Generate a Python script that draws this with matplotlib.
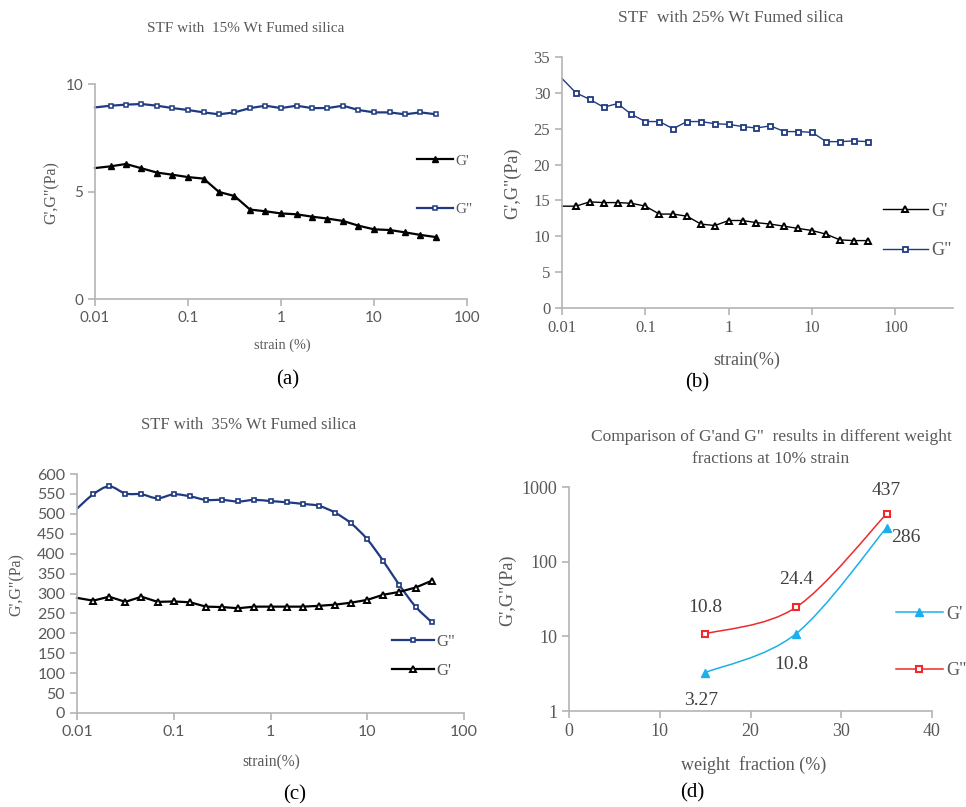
import numpy as np
import matplotlib
matplotlib.use("Agg")
import matplotlib.pyplot as plt
from matplotlib.path import Path
from matplotlib.patches import PathPatch
from matplotlib.lines import Line2D

# ---- data ----
strain = [0.01, 0.0147, 0.0215, 0.0316, 0.0464, 0.0681, 0.1, 0.147, 0.215, 0.316,
          0.464, 0.681, 1.0, 1.47, 2.15, 3.16, 4.64, 6.81, 10.0, 14.7, 21.5, 31.6, 46.4]

# (a) 15 wt%
a_G1 = [6.09, 6.17, 6.28, 6.08, 5.88, 5.78, 5.67, 5.60, 4.98, 4.79, 4.16, 4.08,
        3.98, 3.94, 3.83, 3.74, 3.63, 3.41, 3.24, 3.21, 3.10, 2.98, 2.88]
a_G2 = [8.91, 8.99, 9.04, 9.07, 8.99, 8.88, 8.79, 8.68, 8.59, 8.68, 8.88, 8.99,
        8.88, 8.99, 8.88, 8.88, 8.99, 8.79, 8.68, 8.68, 8.59, 8.68, 8.59]

# (b) 25 wt%
b_G1 = [14.2, 14.2, 14.8, 14.7, 14.7, 14.6, 14.2, 13.1, 13.1, 12.8, 11.7, 11.5,
        12.2, 12.2, 11.9, 11.7, 11.4, 11.1, 10.8, 10.3, 9.5, 9.4, 9.4]
b_G2 = [32.0, 30.0, 29.1, 28.0, 28.5, 27.0, 26.0, 26.0, 25.0, 26.0, 26.0, 25.7,
        25.6, 25.3, 25.1, 25.4, 24.6, 24.6, 24.5, 23.2, 23.2, 23.3, 23.2]

# (c) 35 wt%
c_G1 = [289, 282, 292, 279, 292, 279, 280, 278, 267, 266, 263, 267,
        267, 267, 267, 269, 272, 277, 284, 297, 304, 315, 332]
c_G2 = [513, 549, 569, 551, 549, 539, 549, 544, 535, 535, 531, 535,
        532, 529, 525, 520, 503, 476, 436, 381, 321, 267, 228]

# (d) comparison at 10% strain
wt_frac = [15, 25, 35]
d_G1 = [3.27, 10.8, 286]
d_G2 = [10.8, 24.4, 437]
d_G1_lab = ["3.27", "10.8", "286"]
d_G2_lab = ["10.8", "24.4", "437"]

NAVY = "#1f3a80"
GRAY = "#595959"
AXC = "#b4b4b4"
SERIF = ["Liberation Serif", "DejaVu Serif"]
SANS = ["Lato", "DejaVu Sans"]


def smooth_line(ax, x, y, xlog=False, ylog=False, **kw):
    """Excel-like smoothed line: Catmull-Rom -> cubic Bezier in scaled space."""
    u = np.log10(x) if xlog else np.asarray(x, float)
    v = np.log10(y) if ylog else np.asarray(y, float)
    P = np.column_stack([u, v])
    n = len(P)
    verts = [P[0]]
    codes = [Path.MOVETO]
    for i in range(n - 1):
        p0 = P[max(i - 1, 0)]
        p1, p2 = P[i], P[i + 1]
        p3 = P[min(i + 2, n - 1)]
        c1 = p1 + (p2 - p0) / 6.0
        c2 = p2 - (p3 - p1) / 6.0
        verts += [c1, c2, p2]
        codes += [Path.CURVE4] * 3
    V = np.array(verts)
    if xlog:
        V[:, 0] = 10 ** V[:, 0]
    if ylog:
        V[:, 1] = 10 ** V[:, 1]
    patch = PathPatch(Path(V, codes), fill=False, **kw)
    ax.add_patch(patch)
    return patch


def style_axes(ax, tickfont, tsize):
    for s in ["top", "right"]:
        ax.spines[s].set_visible(False)
    for s in ["left", "bottom"]:
        ax.spines[s].set_color(AXC)
        ax.spines[s].set_linewidth(1.2)
    ax.tick_params(axis="both", which="major", direction="out", length=5,
                   width=1.2, color=AXC, labelcolor=GRAY, labelsize=tsize)
    ax.tick_params(which="minor", length=0)
    for lab in ax.get_xticklabels() + ax.get_yticklabels():
        lab.set_family(tickfont)


fig = plt.figure(figsize=(9.66, 8.07), dpi=100)
W, H = 966.0, 807.0


def add_ax(l, t, r, b):
    return fig.add_axes([l / W, 1 - b / H, (r - l) / W, (b - t) / H])


def ftext(x, y, s, **kw):
    fig.text(x / W, 1 - y / H, s, ha="center", va="center", **kw)


log_ticks = [0.01, 0.1, 1, 10, 100]
log_labels = ["0.01", "0.1", "1", "10", "100"]

# ---------------- (a) ----------------
ax = add_ax(95, 84, 467, 299)
ax.set_xscale("log")
ax.plot(strain, a_G1, "-", color="black", lw=1.6, marker="^", ms=3.8,
        mfc="black", mec="black", markevery=slice(1, None), clip_on=False)
ax.plot(strain, a_G2, "-", color=NAVY, lw=1.6, marker="s", ms=3.2,
        mfc="white", mec=NAVY, mew=1.1, markevery=slice(1, None), clip_on=False)
ax.set_xlim(0.01, 100)
ax.set_ylim(0, 10)
ax.set_xticks(log_ticks, log_labels)
ax.set_yticks([0, 5, 10])
style_axes(ax, SANS, 11)
h1 = Line2D([], [], color="black", lw=1.6, marker="^", ms=3.8, mfc="black")
h2 = Line2D([], [], color=NAVY, lw=1.6, marker="s", ms=3.2, mfc="white", mew=1.1)
ax.legend([h1, h2], ["G'", 'G"'], loc="upper left", bbox_to_anchor=(0.865, 0.675),
          frameon=False, borderpad=0, borderaxespad=0, handlelength=2.4,
          handletextpad=0.15, labelspacing=2.3, numpoints=1,
          prop={"family": SERIF, "size": 11}, labelcolor=GRAY)
ftext(246, 29, "STF with  15% Wt Fumed silica", family=SERIF, size=11, color=GRAY)
ftext(282, 345, "strain (%)", family=SERIF, size=10.3, color=GRAY)
ftext(52, 193, "G',G\"(Pa)", family=SERIF, size=11.5, color=GRAY, rotation=90)
ftext(288, 380, "(a)", family=SERIF, size=15, color="black")

# ---------------- (b) ----------------
ax = add_ax(562, 57, 953, 308)
ax.set_xscale("log")
ax.plot(strain, b_G1, "-", color="black", lw=1.0, marker="^", ms=5,
        mfc="white", mec="black", mew=1.4, markevery=slice(1, None), clip_on=False)
ax.plot(strain, b_G2, "-", color=NAVY, lw=1.0, marker="s", ms=3.6,
        mfc="white", mec=NAVY, mew=1.3, markevery=slice(1, None), clip_on=False)
ax.set_xlim(0.01, 10 ** 2.69)
ax.set_ylim(0, 35)
ax.set_xticks(log_ticks, log_labels)
ax.set_yticks(range(0, 36, 5))
style_axes(ax, SERIF, 12)
h1 = Line2D([], [], color="black", lw=1.0, marker="^", ms=5, mfc="white", mew=1.4)
h2 = Line2D([], [], color=NAVY, lw=1.0, marker="s", ms=3.6, mfc="white", mew=1.3)
ax.legend([h1, h2], ["G'", 'G"'], loc="upper left", bbox_to_anchor=(0.82, 0.42),
          frameon=False, borderpad=0, borderaxespad=0, handlelength=2.5,
          handletextpad=0.2, labelspacing=1.25, numpoints=1,
          prop={"family": SERIF, "size": 13}, labelcolor=GRAY)
ftext(731, 18, "STF  with 25% Wt Fumed silica", family=SERIF, size=12.5, color=GRAY)
ftext(747, 360, "strain(%)", family=SERIF, size=13, color=GRAY)
ftext(513, 183, "G',G\"(Pa)", family=SERIF, size=13, color=GRAY, rotation=90)
ftext(697, 383, "(b)", family=SERIF, size=15, color="black")

# ---------------- (c) ----------------
ax = add_ax(77, 474, 464, 713)
ax.set_xscale("log")
smooth_line(ax, strain, c_G2, xlog=True, color=NAVY, lw=1.6)
ax.plot(strain[1:], c_G2[1:], "none", marker="s", ms=3.4,
        mfc="white", mec=NAVY, mew=1.2, clip_on=False)
ax.plot(strain, c_G1, "-", color="black", lw=1.6, marker="^", ms=4.6,
        mfc="white", mec="black", mew=1.4, markevery=slice(1, None), clip_on=False)
ax.set_xlim(0.01, 100)
ax.set_ylim(0, 600)
ax.set_xticks(log_ticks, log_labels)
ax.set_yticks(range(0, 601, 50))
style_axes(ax, SANS, 11.5)
h2 = Line2D([], [], color=NAVY, lw=1.6, marker="s", ms=3.4, mfc="white", mew=1.2)
h1 = Line2D([], [], color="black", lw=1.6, marker="^", ms=4.6, mfc="white", mew=1.4)
ax.legend([h2, h1], ['G"', "G'"], loc="upper left", bbox_to_anchor=(0.815, 0.33),
          frameon=False, borderpad=0, borderaxespad=0, handlelength=2.5,
          handletextpad=0.15, labelspacing=0.75, numpoints=1,
          prop={"family": SERIF, "size": 12}, labelcolor=GRAY)
ftext(249, 425, "STF with  35% Wt Fumed silica", family=SERIF, size=12, color=GRAY)
ftext(271, 762, "strain(%)", family=SERIF, size=11.2, color=GRAY)
ftext(17, 585, "G',G\"(Pa)", family=SERIF, size=11.5, color=GRAY, rotation=90)
ftext(295, 795, "(c)", family=SERIF, size=15, color="black")

# ---------------- (d) ----------------
CYAN = "#1ab0ec"
RED = "#ee2a2a"
ax = add_ax(569, 487, 932, 711)
ax.set_yscale("log")
smooth_line(ax, wt_frac, d_G1, ylog=True, color=CYAN, lw=1.1)
smooth_line(ax, wt_frac, d_G2, ylog=True, color=RED, lw=1.1)
ax.plot(wt_frac, d_G1, "none", marker="^", ms=5.5, mfc=CYAN, mec=CYAN)
ax.plot(wt_frac, d_G2, "none", marker="s", ms=4.8, mfc="white", mec=RED, mew=1.5)
ax.set_xlim(0, 40)
ax.set_ylim(1, 1000)
ax.set_xticks(range(0, 41, 10))
ax.set_yticks([1, 10, 100, 1000], ["1", "10", "100", "1000"])
style_axes(ax, SERIF, 13)
lab_off_G2 = [(0, 19), (0, 20), (0, 17)]
lab_off_G1 = [(-3, -20), (-3, -22), (14, -7)]
for x, y, s, o in zip(wt_frac, d_G2, d_G2_lab, lab_off_G2):
    ax.annotate(s, (x, y), xytext=o, textcoords="offset points", ha="center",
                va="center", family=SERIF, size=14, color="#404040")
for x, y, s, o in zip(wt_frac, d_G1, d_G1_lab, lab_off_G1):
    ax.annotate(s, (x, y), xytext=o, textcoords="offset points", ha="center",
                va="center", family=SERIF, size=14, color="#404040")
h1 = Line2D([], [], color=CYAN, lw=1.1, marker="^", ms=5.5, mfc=CYAN, mec=CYAN)
h2 = Line2D([], [], color=RED, lw=1.1, marker="s", ms=4.8, mfc="white", mec=RED, mew=1.5)
ax.legend([h1, h2], ["G'", 'G"'], loc="upper left", bbox_to_anchor=(0.90, 0.47),
          frameon=False, borderpad=0, borderaxespad=0, handlelength=2.6,
          handletextpad=0.2, labelspacing=2.2, numpoints=1,
          prop={"family": SERIF, "size": 13}, labelcolor=GRAY)
ftext(771, 437, "Comparison of G'and G\"  results in different weight",
      family=SERIF, size=12.5, color=GRAY)
ftext(771, 459, "fractions at 10% strain", family=SERIF, size=12.5, color=GRAY)
ftext(754, 765, "weight  fraction (%)", family=SERIF, size=13, color=GRAY)
ftext(508, 590, "G',G\"(Pa)", family=SERIF, size=13, color=GRAY, rotation=90)
ftext(692, 793, "(d)", family=SERIF, size=15, color="black")

fig.savefig("out.png", dpi=100, facecolor="white")
